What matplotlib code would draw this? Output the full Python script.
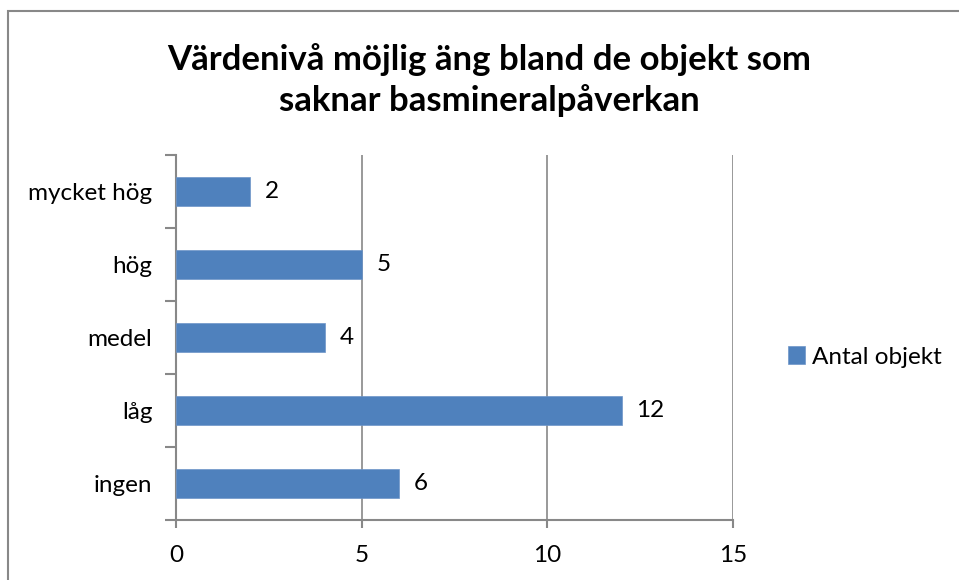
import matplotlib
matplotlib.use("Agg")
import matplotlib.pyplot as plt
from matplotlib.patches import Rectangle

categories = ["ingen", "låg", "medel", "hög", "mycket hög"]
values = [6, 12, 4, 5, 2]
xticks = [0, 5, 10, 15]
series_name = "Antal objekt"
title = "Värdenivå möjlig äng bland de objekt som\nsaknar basmineralpåverkan"

plt.rcParams['font.family'] = ['Lato', 'DejaVu Sans']
W, H = 959, 580
fig = plt.figure(figsize=(W/100, H/100), dpi=100)
fig.patch.set_facecolor('white')

# outer border
fig.patches.append(Rectangle((8/W, -0.01), 1.02, 1 - 11/H + 0.01, transform=fig.transFigure,
                             fill=False, edgecolor='#888888', linewidth=1.5))

ax = fig.add_axes([176/W, 1 - 520/H, (733-176)/W, (520-155)/H])
color = '#4F81BD'
y = list(range(len(categories)))
bars = ax.barh(y, values, height=0.4, color=color, label=series_name, zorder=3,
               edgecolor='#6d95c8', linewidth=0.5)
for yi, v in zip(y, values):
    ax.text(v + 0.4, yi, str(v), va='center', ha='left', fontsize=17.5, color='black')

ax.set_xlim(0, 15)
ax.set_ylim(-0.5, len(categories) - 0.5)
ax.set_xticks(xticks)
ax.set_xticklabels([str(t) for t in xticks], fontsize=17.5)
ax.set_yticks(y)
ax.set_yticklabels(categories, fontsize=17.5)
ax.tick_params(axis='y', length=0, pad=17)
ax.tick_params(axis='x', length=6, width=1.5, color='#888888', pad=12)
ax.set_yticks([i - 0.5 for i in range(len(categories) + 1)], minor=True)
ax.tick_params(axis='y', which='minor', length=8, width=1.5, color='#888888')
ax.grid(axis='x', color='#888888', linewidth=1.2, zorder=0)
for s in ['top', 'right']:
    ax.spines[s].set_visible(False)
for s in ['left', 'bottom']:
    ax.spines[s].set_color('#888888')
    ax.spines[s].set_linewidth(1.5)

fig.text(0.51, 1 - 80/H, title, ha='center', va='center', fontsize=25, fontweight='bold',
         linespacing=1.3)

leg = fig.legend(handles=[bars], labels=[series_name], loc='center left',
                 bbox_to_anchor=(766/W, 1 - 357/H), frameon=False, fontsize=17.5,
                 handlelength=0.7, handleheight=0.7, handletextpad=0.3)

fig.savefig("out.png", dpi=100)
